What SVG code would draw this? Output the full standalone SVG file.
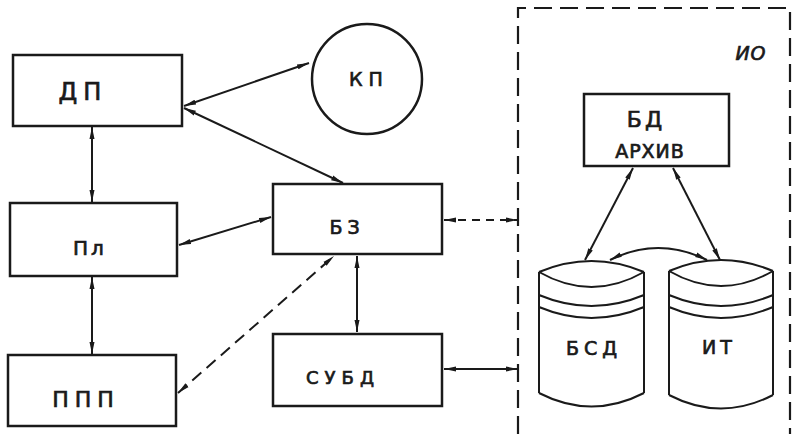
<svg xmlns="http://www.w3.org/2000/svg" width="793" height="434" viewBox="0 0 793 434">
<style>
.box{fill:#fff;stroke:#1a1a1a;stroke-width:2.5}
.ln{fill:none;stroke:#1a1a1a;stroke-width:2}
.dash{stroke-dasharray:12 7}
.bnd{fill:none;stroke:#1a1a1a;stroke-width:2.2;stroke-dasharray:18 8}
.t{font-family:"DejaVu Sans","Liberation Sans",sans-serif;fill:#1a1a1a;stroke:#1a1a1a;stroke-width:0.7;text-anchor:middle}
</style>
<defs>
<marker id="a" viewBox="0 0 12 6" refX="12" refY="3" markerWidth="12" markerHeight="6" markerUnits="userSpaceOnUse" orient="auto-start-reverse">
<path d="M0,0.5 L12,3 L0,5.5 z" fill="#1a1a1a"/>
</marker>
</defs>
<rect width="793" height="434" fill="#fff"/>

<g id="io">
<path class="bnd" d="M518,434 L518,8 L790,8 L790,434"/>
<text class="t" x="751" y="60" font-size="19" font-style="italic" letter-spacing="1">ИО</text>
</g>

<g id="dp">
<rect class="box" x="13" y="55" width="169" height="71"/>
<text class="t" x="83" y="100" font-size="24" letter-spacing="6">ДП</text>
</g>
<g id="kp">
<circle class="box" cx="367" cy="79" r="55"/>
<text class="t" x="369" y="86" font-size="19" letter-spacing="6">КП</text>
</g>
<g id="pl">
<rect class="box" x="10" y="203" width="167" height="73"/>
<text class="t" x="90" y="255" font-size="20" letter-spacing="3">Пл</text>
</g>
<g id="b3">
<rect class="box" x="273" y="184" width="169" height="70"/>
<text class="t" x="347" y="234" font-size="19" letter-spacing="5">БЗ</text>
</g>
<g id="subd">
<rect class="box" x="273" y="334" width="169" height="72"/>
<text class="t" x="343" y="384" font-size="18" letter-spacing="6">СУБД</text>
</g>
<g id="ppp">
<rect class="box" x="8" y="355" width="168" height="71"/>
<text class="t" x="86" y="407" font-size="22" letter-spacing="6">ППП</text>
</g>
<g id="bd">
<rect class="box" x="584" y="94" width="145" height="72"/>
<text class="t" x="646" y="127" font-size="22" letter-spacing="3">БД</text>
<text class="t" x="650" y="158" font-size="19" letter-spacing="1">АРХИВ</text>
</g>
<g id="bsd">
<path class="ln" d="M539,272 Q591.5,250 644,272 M539,272 Q591.5,302 644,272 M539,295 Q591.5,317 644,295 M539,307 Q591.5,329 644,307 M539,272 L539,393 M644,272 L644,393 M539,393 Q591.5,420 644,393"/>
<text class="t" x="594" y="355" font-size="19" letter-spacing="5">БСД</text>
</g>
<g id="it">
<path class="ln" d="M669,271 Q721,249 773,271 M669,271 Q721,301 773,271 M669,295 Q721,317 773,295 M669,307 Q721,329 773,307 M669,271 L669,395 M773,271 L773,395 M669,395 Q721,422 773,395"/>
<text class="t" x="719" y="354" font-size="19" letter-spacing="4">ИТ</text>
</g>

<g id="connectors">
<line class="ln" x1="184" y1="106" x2="309" y2="63" marker-start="url(#a)" marker-end="url(#a)"/>
<line class="ln" x1="184" y1="108" x2="343" y2="183" marker-start="url(#a)" marker-end="url(#a)"/>
<line class="ln" x1="92" y1="127" x2="92" y2="202" marker-start="url(#a)" marker-end="url(#a)"/>
<line class="ln" x1="179" y1="245" x2="271" y2="217" marker-start="url(#a)" marker-end="url(#a)"/>
<line class="ln" x1="92" y1="277" x2="92" y2="354" marker-start="url(#a)" marker-end="url(#a)"/>
<line class="ln dash" x1="178" y1="393" x2="334" y2="256" marker-start="url(#a)" marker-end="url(#a)"/>
<line class="ln" x1="357" y1="256" x2="357" y2="332" marker-start="url(#a)" marker-end="url(#a)"/>
<line class="ln" x1="444" y1="220" x2="518" y2="220" stroke-dasharray="8 6" marker-start="url(#a)" marker-end="url(#a)"/>
<line class="ln" x1="444" y1="369" x2="518" y2="369" marker-start="url(#a)" marker-end="url(#a)"/>
<line class="ln" x1="633" y1="168" x2="585" y2="260" marker-start="url(#a)" marker-end="url(#a)"/>
<line class="ln" x1="673" y1="168" x2="720" y2="260" marker-start="url(#a)" marker-end="url(#a)"/>
<path class="ln" d="M610,260 Q658,236 707,260" marker-start="url(#a)" marker-end="url(#a)"/>
</g>
</svg>
